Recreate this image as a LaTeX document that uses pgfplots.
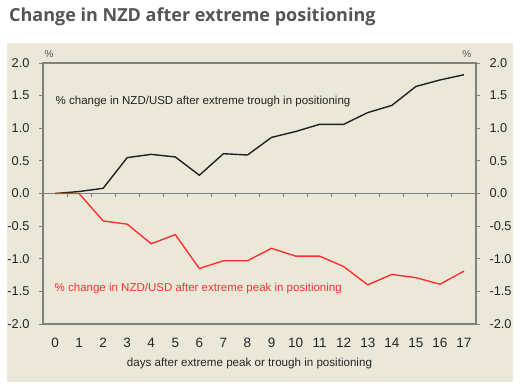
\documentclass[border=0pt]{standalone}
\usepackage{pgfplots}
\pgfplotsset{compat=1.18}
\usepackage{fontspec}
\setmainfont{Liberation Sans}
\newfontfamily\titlefont{Open Sans}
\definecolor{bgbeige}{HTML}{EBE8DA}
\definecolor{titlegray}{HTML}{555555}
\definecolor{axgray}{HTML}{808080}
\definecolor{nzred}{HTML}{FF3030}
\definecolor{nzblack}{HTML}{222222}
\pgfplotstableread{
x y
0 0
1 0.03
2 0.08
3 0.55
4 0.60
5 0.56
6 0.28
7 0.61
8 0.59
9 0.86
10 0.95
11 1.06
12 1.06
13 1.24
14 1.35
15 1.64
16 1.74
17 1.82
}\trough
\pgfplotstableread{
x y
0 0
1 0
2 -0.42
3 -0.47
4 -0.77
5 -0.63
6 -1.15
7 -1.03
8 -1.03
9 -0.84
10 -0.96
11 -0.96
12 -1.12
13 -1.40
14 -1.24
15 -1.29
16 -1.39
17 -1.19
}\peak
\pgfplotsset{
  mystyle/.style={
    at={(43bp,67bp)}, anchor=south west, scale only axis,
    width=433bp, height=261bp,
    xmin=-0.5, xmax=17.5, ymin=-2, ymax=2,
    ytick={-2,-1.5,...,2},
    axis line style={axgray, line width=1.2bp},
    every tick/.style={axgray, line width=1bp},
    major tick length=4bp, tick align=outside,
    /pgf/number format/assume math mode=true,
    yticklabel style={/pgf/number format/fixed, /pgf/number format/fixed zerofill, /pgf/number format/precision=1},
    ticklabel style={font=\fontsize{12.8bp}{15bp}\selectfont, text=black!85},
  }
}
\begin{document}
\begin{tikzpicture}[x=1bp,y=1bp]
\fill[white] (0,0) rectangle (523,391);
\fill[bgbeige] (7,9) rectangle (513,348);
\node[anchor=base west, font=\titlefont\bfseries\fontsize{18bp}{21bp}\selectfont, text=titlegray, inner sep=0] at (9,370) {Change in NZD after extreme positioning};
\begin{axis}[mystyle,
  xtick={0,...,17}, xtick pos=bottom, xtick style={draw=none},
  xticklabel style={yshift=-7bp, font=\fontsize{13.5bp}{15bp}\selectfont},
  ytick pos=left, yticklabel style={xshift=-6bp},
  xlabel={days after extreme peak or trough in positioning},
  xlabel style={font=\fontsize{11.6bp}{13bp}\selectfont, yshift=-3bp, xshift=-10bp, text=black!85},
  clip=false]
\draw[axgray, line width=1bp] (axis cs:-0.5,0) -- (axis cs:17.5,0);
\draw[axgray, line width=1bp] (axis cs:0.5,0) -- (axis cs:0.5,-0.06);
\draw[axgray, line width=1bp] (axis cs:1.5,0) -- (axis cs:1.5,-0.06);
\draw[axgray, line width=1bp] (axis cs:2.5,0) -- (axis cs:2.5,-0.06);
\draw[axgray, line width=1bp] (axis cs:3.5,0) -- (axis cs:3.5,-0.06);
\draw[axgray, line width=1bp] (axis cs:4.5,0) -- (axis cs:4.5,-0.06);
\draw[axgray, line width=1bp] (axis cs:5.5,0) -- (axis cs:5.5,-0.06);
\draw[axgray, line width=1bp] (axis cs:6.5,0) -- (axis cs:6.5,-0.06);
\draw[axgray, line width=1bp] (axis cs:7.5,0) -- (axis cs:7.5,-0.06);
\draw[axgray, line width=1bp] (axis cs:8.5,0) -- (axis cs:8.5,-0.06);
\draw[axgray, line width=1bp] (axis cs:9.5,0) -- (axis cs:9.5,-0.06);
\draw[axgray, line width=1bp] (axis cs:10.5,0) -- (axis cs:10.5,-0.06);
\draw[axgray, line width=1bp] (axis cs:11.5,0) -- (axis cs:11.5,-0.06);
\draw[axgray, line width=1bp] (axis cs:12.5,0) -- (axis cs:12.5,-0.06);
\draw[axgray, line width=1bp] (axis cs:13.5,0) -- (axis cs:13.5,-0.06);
\draw[axgray, line width=1bp] (axis cs:14.5,0) -- (axis cs:14.5,-0.06);
\draw[axgray, line width=1bp] (axis cs:15.5,0) -- (axis cs:15.5,-0.06);
\draw[axgray, line width=1bp] (axis cs:16.5,0) -- (axis cs:16.5,-0.06);
\addplot[nzblack, line width=1.4bp] table[x=x,y=y] {\trough};
\addplot[nzred, line width=1.4bp] table[x=x,y=y] {\peak};
\node[anchor=west, font=\fontsize{11.5bp}{13bp}\selectfont, text=nzblack, inner sep=0] at (axis cs:0.02,1.41) {\% change in NZD/USD after extreme trough in positioning};
\node[anchor=west, font=\fontsize{11.5bp}{13bp}\selectfont, text=nzred, inner sep=0] at (axis cs:-0.02,-1.45) {\% change in NZD/USD after extreme peak in positioning};
\node[font=\fontsize{10bp}{12bp}\selectfont, text=titlegray] at (axis cs:-0.25,2.14) {\%};
\node[font=\fontsize{10bp}{12bp}\selectfont, text=titlegray] at (axis cs:17.12,2.14) {\%};
\end{axis}
\begin{axis}[mystyle,
  axis y line*=right, axis x line=none,
  yticklabel pos=right, yticklabel style={xshift=6bp}]
\addplot[draw=none] coordinates {(0,0)};
\end{axis}
\end{tikzpicture}
\end{document}
